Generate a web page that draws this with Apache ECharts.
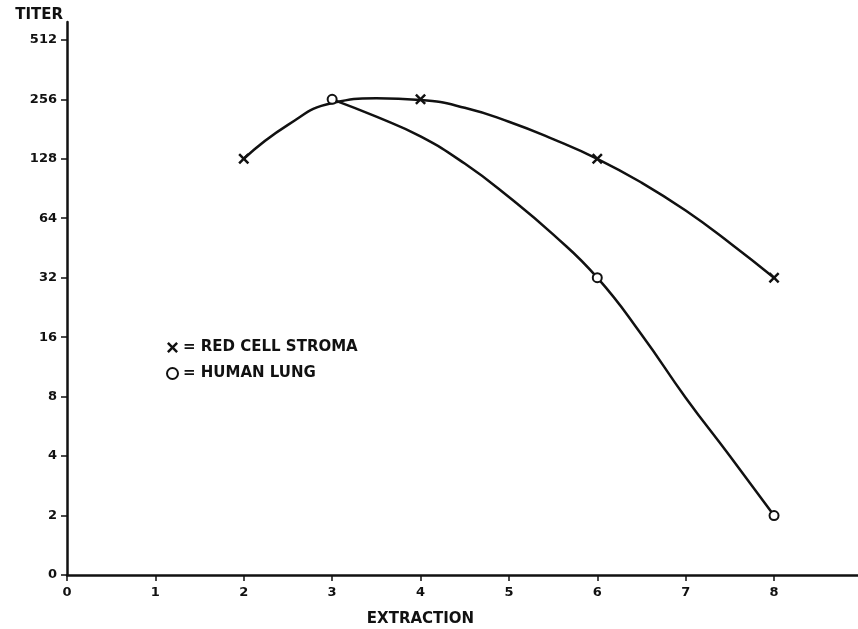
<!DOCTYPE html>
<html>
<head>
<meta charset="utf-8">
<style>
  html, body { margin: 0; padding: 0; background: #ffffff; }
  #chart { width: 858px; height: 629px; }
</style>
<script src="https://cdn.jsdelivr.net/npm/echarts@6/dist/echarts.min.js"></script>
</head>
<body>
<div id="chart"></div>
<script>
// ---- data ----
const xTicks = [0, 1, 2, 3, 4, 5, 6, 7, 8];
const yTickLabels = ['0', '2', '4', '8', '16', '32', '64', '128', '256', '512'];

// measured points (extraction, titer)
const stromaX = [2, 4, 6, 8];
const stromaTiter = [128, 256, 128, 32];
const lungX = [3, 6, 8];
const lungTiter = [256, 32, 2];

// hand-drawn fitted curves (extraction, titer)
const stromaCurveX = [2, 2.5, 3, 3.5, 4, 4.5, 5, 5.5, 6, 6.5, 7, 7.5, 8];
const stromaCurveTiter = [128, 190, 245, 259, 254, 232, 197, 161, 128, 97, 70, 48, 32];
const lungCurveX = [3, 3.5, 4, 4.5, 5, 5.5, 6, 6.5, 7, 7.5, 8];
const lungCurveTiter = [256, 209, 166, 121, 82, 53, 32, 16.5, 7.9, 4, 2];

// titer axis is drawn in doubling steps: position = log2(titer)
const pos = t => (t <= 0 ? 0 : Math.log2(t));
const pairs = (xs, ts) => xs.map((x, i) => [x, pos(ts[i])]);

const INK = '#111111';
const FONT = 'DejaVu Sans';
const crossPath = 'path://M0,1.6L1.6,0L5,3.4L8.4,0L10,1.6L6.6,5L10,8.4L8.4,10L5,6.6L1.6,10L0,8.4L3.4,5Z';

const chart = echarts.init(document.getElementById('chart'), null, { renderer: 'canvas' });
chart.setOption({
  backgroundColor: '#ffffff',
  animation: false,
  grid: { left: 67, right: 0, top: 22, bottom: 54, containLabel: false, outerBoundsMode: 'none' },
  legend: {
    orient: 'vertical',
    left: 166,
    top: 340,
    padding: 0,
    itemWidth: 11,
    itemHeight: 11,
    itemGap: 11,
    data: ['RED CELL STROMA', 'HUMAN LUNG'],
    formatter: '= {name}',
    selectedMode: false,
    textStyle: { color: INK, fontFamily: FONT, fontWeight: 'bold', fontSize: 15 }
  },
  xAxis: {
    type: 'value',
    min: 0,
    max: 8.95,
    name: 'EXTRACTION',
    nameLocation: 'middle',
    nameGap: 37,
    nameTextStyle: { color: INK, fontFamily: FONT, fontWeight: 'bold', fontSize: 15, padding: [0, 84, 0, 0] },
    splitLine: { show: false },
    axisLine: { show: true, onZero: false, lineStyle: { color: INK, width: 2.5 } },
    axisTick: { show: true, customValues: xTicks, length: 6, lineStyle: { color: INK, width: 1.5 } },
    axisLabel: { customValues: xTicks, margin: 11, color: INK, fontFamily: FONT, fontWeight: 'bold', fontSize: 13 }
  },
  yAxis: {
    type: 'value',
    min: 0,
    max: 9.3,
    name: 'TITER',
    nameLocation: 'end',
    nameGap: -1,
    nameTextStyle: { color: INK, fontFamily: FONT, fontWeight: 'bold', fontSize: 15, align: 'right', padding: [0, 4, 0, 0] },
    splitLine: { show: false },
    axisLine: { show: true, onZero: false, lineStyle: { color: INK, width: 2.5 } },
    axisTick: { show: true, customValues: yTickLabels.map((_, i) => i), length: 6, lineStyle: { color: INK, width: 1.5 } },
    axisLabel: {
      customValues: yTickLabels.map((_, i) => i),
      margin: 10,
      color: INK, fontFamily: FONT, fontWeight: 'bold', fontSize: 13,
      formatter: v => yTickLabels[Math.round(v)]
    }
  },
  series: [
    {
      name: 'stroma curve', type: 'line', smooth: 0.5, showSymbol: false, silent: true,
      data: pairs(stromaCurveX, stromaCurveTiter),
      lineStyle: { color: INK, width: 2.5 }, z: 2
    },
    {
      name: 'lung curve', type: 'line', smooth: 0.5, showSymbol: false, silent: true,
      data: pairs(lungCurveX, lungCurveTiter),
      lineStyle: { color: INK, width: 2.5 }, z: 2
    },
    {
      name: 'RED CELL STROMA', type: 'scatter', symbol: crossPath, symbolSize: 11,
      data: pairs(stromaX, stromaTiter),
      itemStyle: { color: INK, opacity: 1 }, z: 5
    },
    {
      name: 'HUMAN LUNG', type: 'scatter', symbol: 'circle', symbolSize: 9,
      data: pairs(lungX, lungTiter),
      itemStyle: { color: '#ffffff', borderColor: INK, borderWidth: 2, opacity: 1 }, z: 5
    }
  ]
});
</script>
</body>
</html>
